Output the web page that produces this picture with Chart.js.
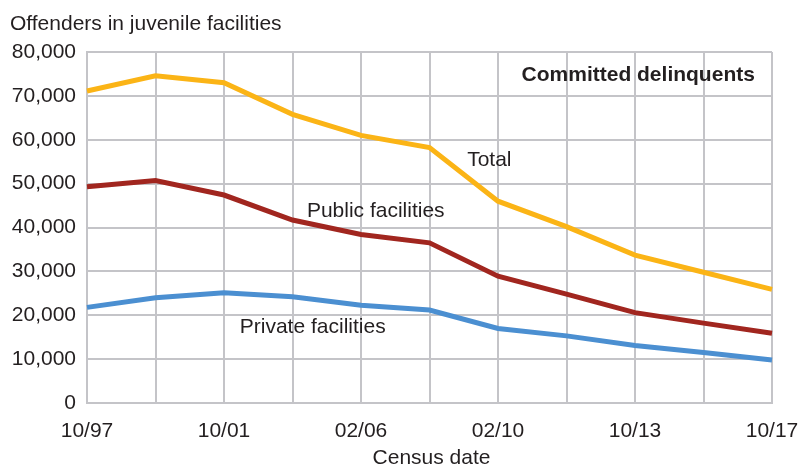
<!DOCTYPE html>
<html lang="en">
<head>
  <meta charset="UTF-8" />
  <title>Offenders in juvenile facilities</title>
  <script src="https://cdn.jsdelivr.net/npm/chart.js"></script>
  <style>
    html, body {
      margin: 0;
      padding: 0;
      background: #fff;
    }
    #wrap {
      width: 798px;
      height: 467px;
    }
  </style>
</head>
<body>
  <div id="wrap">
    <canvas id="chart" width="798" height="467"></canvas>
  </div>

  <script>
    // census dates (only every other one gets a label on the axis)
    const censusDates = ['10/97', '10/99', '10/01', '10/03', '02/06', '10/07', '02/10', '10/11', '10/13', '10/15', '10/17'];
    const totalOffenders = [71100, 74600, 73000, 65800, 61000, 58200, 46000, 40200, 33700, 29800, 25900];
    const publicFacilities = [49300, 50700, 47400, 41700, 38400, 36500, 28900, 24800, 20600, 18200, 15900];
    const privateFacilities = [21800, 24000, 25100, 24200, 22300, 21200, 17000, 15300, 13100, 11500, 9800];
    const yTicks = [0, 10000, 20000, 30000, 40000, 50000, 60000, 70000, 80000];

    const FONT = "'Liberation Sans', Arial, sans-serif";
    const SIZE = 21;
    const INK = '#231f20';
    const GRID = '#c4c4c8';

    // text labels placed in data space (x = category index, y = value)
    const notes = [
      { text: 'Committed delinquents', x: 9.75, y: 74700, align: 'right', bold: true },
      { text: 'Total', x: 5.55, y: 55300, align: 'left' },
      { text: 'Public facilities', x: 3.21, y: 43700, align: 'left' },
      { text: 'Private facilities', x: 2.23, y: 17300, align: 'left' }
    ];

    const textPlugin = {
      id: 'texts',
      afterDraw(chart) {
        const { ctx, chartArea, scales } = chart;
        ctx.save();
        ctx.fillStyle = INK;

        // axis titles
        ctx.font = `${SIZE}px ${FONT}`;
        ctx.textAlign = 'left';
        ctx.textBaseline = 'alphabetic';
        ctx.fillText('Offenders in juvenile facilities', 10, 30);
        ctx.textAlign = 'center';
        ctx.fillText('Census date', (chartArea.left + chartArea.right) / 2 + 2, 464);

        // line labels
        ctx.textBaseline = 'middle';
        notes.forEach(n => {
          ctx.font = `${n.bold ? 'bold ' : ''}${SIZE}px ${FONT}`;
          ctx.textAlign = n.align;
          ctx.fillText(n.text, scales.x.getPixelForValue(n.x), scales.y.getPixelForValue(n.y));
        });
        ctx.restore();
      }
    };

    const lineStyle = color => ({
      borderColor: color,
      backgroundColor: color,
      borderWidth: 5,
      pointRadius: 0,
      tension: 0,
      fill: false
    });

    new Chart(document.getElementById('chart'), {
      type: 'line',
      data: {
        labels: censusDates,
        datasets: [
          { label: 'Total', data: totalOffenders, ...lineStyle('#fbb416') },
          { label: 'Public facilities', data: publicFacilities, ...lineStyle('#a1261f') },
          { label: 'Private facilities', data: privateFacilities, ...lineStyle('#4b8fd1') }
        ]
      },
      options: {
        responsive: false,
        animation: false,
        layout: { padding: { top: 52, right: 26, left: 0, bottom: 0 } },
        plugins: {
          legend: { display: false },
          tooltip: { enabled: false }
        },
        scales: {
          x: {
            offset: false,
            grid: { color: GRID, lineWidth: 2, drawTicks: false },
            border: { color: GRID, width: 2 },
            ticks: {
              autoSkip: false,
              maxRotation: 0,
              padding: 16,
              color: INK,
              font: { family: FONT, size: SIZE },
              callback: (v, i) => (i % 2 === 0 ? censusDates[i] : '')
            },
            afterFit: scale => {
              scale.height = 64;
              scale.paddingLeft = 0;
              scale.paddingRight = 0;
            }
          },
          y: {
            min: yTicks[0],
            max: yTicks[yTicks.length - 1],
            grid: { color: GRID, lineWidth: 2, drawTicks: false },
            border: { color: GRID, width: 2 },
            afterBuildTicks: scale => { scale.ticks = yTicks.map(v => ({ value: v })); },
            ticks: {
              padding: 11,
              color: INK,
              font: { family: FONT, size: SIZE },
              callback: v => v.toLocaleString('en-US')
            },
            afterFit: scale => { scale.width = 87; }
          }
        }
      },
      plugins: [textPlugin]
    });
  </script>
</body>
</html>
